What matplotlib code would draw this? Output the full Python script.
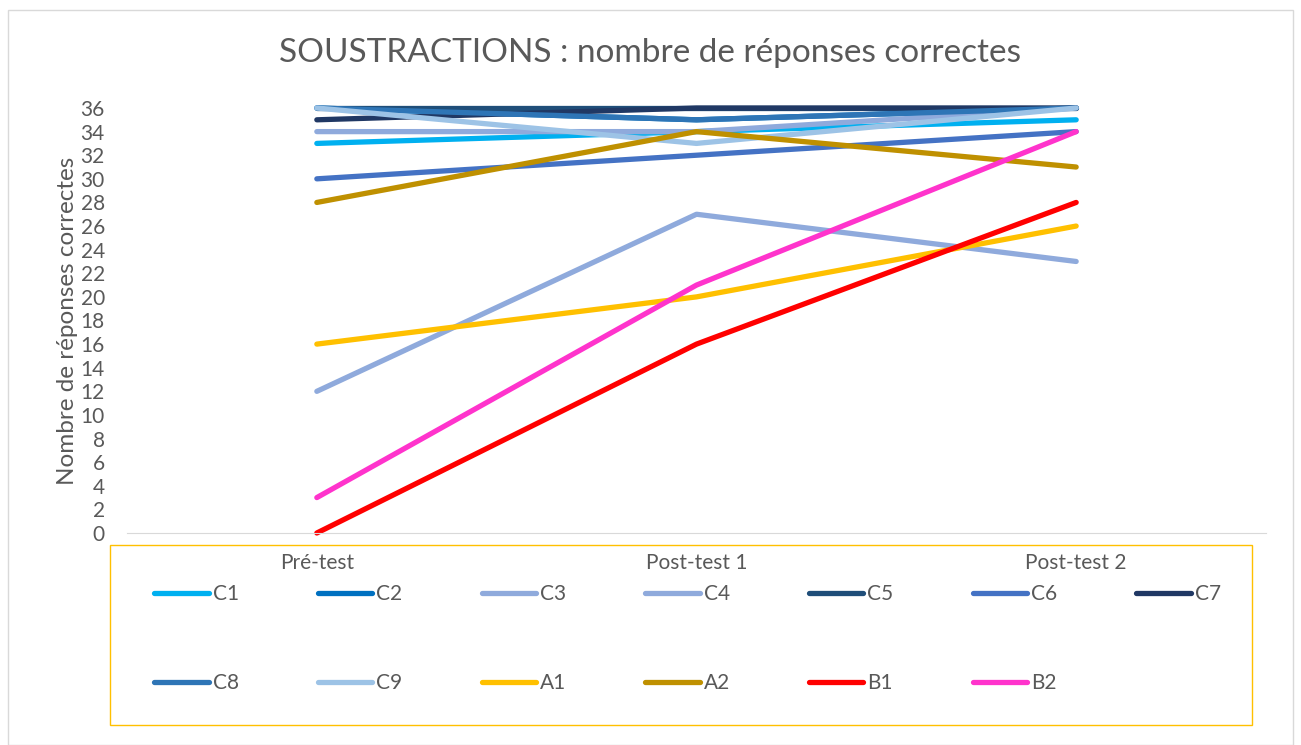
import matplotlib.pyplot as plt
from matplotlib.patches import Rectangle

plt.rcParams["font.family"] = ["Lato", "DejaVu Sans"]

categories = ["Pré-test", "Post-test 1", "Post-test 2"]
series_names = ["C1", "C2", "C3", "C4", "C5", "C6", "C7", "C8", "C9", "A1", "A2", "B1", "B2"]
C1 = [33, 34, 35]
C2 = [36, 35, 36]
C3 = [34, 34, 36]
C4 = [12, 27, 23]
C5 = [36, 36, 36]
C6 = [30, 32, 34]
C7 = [35, 36, 36]
C8 = [36, 35, 36]
C9 = [36, 33, 36]
A1 = [16, 20, 26]
A2 = [28, 34, 31]
B1 = [0, 16, 28]
B2 = [3, 21, 34]
values = [C1, C2, C3, C4, C5, C6, C7, C8, C9, A1, A2, B1, B2]
colors = ["#00B0F0", "#0070C0", "#8FAADC", "#8FAADC", "#1F4E79", "#4472C4", "#203864",
          "#2E75B6", "#9DC3E6", "#FFC000", "#BF9000", "#FF0000", "#FF33CC"]

W, H = 1301, 745
fig = plt.figure(figsize=(W / 100, H / 100), dpi=100)
ax = fig.add_axes([127 / W, 1 - 533 / H, (1266 - 127) / W, (533 - 108) / H])

x = list(range(len(categories)))
lines = []
for name, ys, col in zip(series_names, values, colors):
    ln, = ax.plot(x, ys, color=col, lw=3.8, solid_capstyle="round", label=name, clip_on=False)
    lines.append(ln)

ax.set_xlim(-0.5, 2.5)
ax.set_ylim(0, 36)
ax.set_yticks(range(0, 37, 2))
ax.set_xticks([])
ax.tick_params(axis="y", length=0, labelsize=15, labelcolor="#595959", pad=16)
for s in ["top", "right", "left"]:
    ax.spines[s].set_visible(False)
ax.spines["bottom"].set_color("#D9D9D9")
ax.set_ylabel("Nombre de réponses correctes", fontsize=17.5, color="#595959", labelpad=2)

for xi, cat in zip(x, categories):
    ax.text(xi, -2.5, cat, ha="center", va="center", fontsize=15, color="#595959",
            transform=ax.transData)

fig.text(650 / W, 1 - 53 / H, "SOUSTRACTIONS : nombre de réponses correctes",
         ha="center", va="center", fontsize=24, color="#595959")

# outer chart frame and legend frame
fig.patches.append(Rectangle((8 / W, 0), (1293 - 8) / W, 1 - 10 / H, transform=fig.transFigure,
                             fill=False, edgecolor="#D9D9D9", lw=1))
fig.patches.append(Rectangle((110 / W, 1 - 725 / H), (1252 - 110) / W, (725 - 545) / H,
                             transform=fig.transFigure, fill=False, edgecolor="#FFC000", lw=1))

# legend fills column by column, so reorder to read row by row
ncol = 7
order = []
for c in range(ncol):
    order += [i for i in (c, c + ncol) if i < len(lines)]
leg = fig.legend([lines[i] for i in order], [series_names[i] for i in order],
                 loc="upper left", bbox_to_anchor=(146 / W, 1 - 576 / H), ncol=ncol,
                 frameon=False, fontsize=15, handlelength=2.6, handletextpad=0.2,
                 columnspacing=3.8, labelspacing=3.3, borderaxespad=0)
for t in leg.get_texts():
    t.set_color("#595959")

fig.savefig("out.png", dpi=100)
